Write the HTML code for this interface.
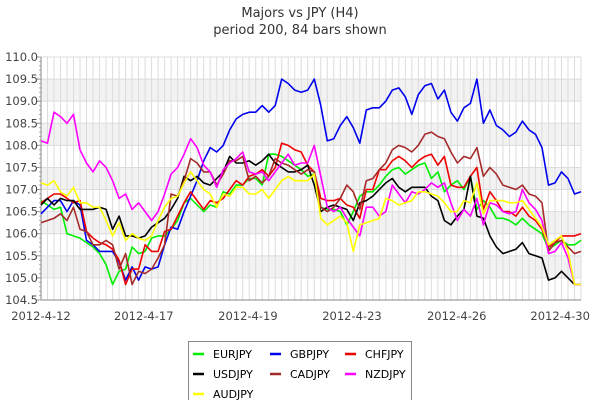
<!DOCTYPE html>
<html><head><meta charset="utf-8"><style>
body{margin:0;background:#fff;font-family:"Liberation Sans","DejaVu Sans",sans-serif;}
svg text{font-family:"DejaVu Sans","Liberation Sans",sans-serif;}
</style></head><body>
<svg id="c" width="600" height="400" xmlns="http://www.w3.org/2000/svg"></svg>
<script>
const seriesNames=["EURJPY","GBPJPY","CHFJPY","USDJPY","CADJPY","NZDJPY","AUDJPY"];
const seriesColors=["#00ee00","#0000ee","#ee0000","#000000","#a52a2a","#ff00ff","#ffff00"];
const yTicks=[104.5,105.0,105.5,106.0,106.5,107.0,107.5,108.0,108.5,109.0,109.5,110.0];
const dateLabels=["2012-4-12","2012-4-17","2012-4-19","2012-4-23","2012-4-26","2012-4-30"];
const dateIdx=[0,15.8,31.8,47.8,63.9,79.8];
const eurjpy=[106.75,106.65,106.55,106.6,106.0,105.95,105.9,105.8,105.7,105.55,105.3,104.85,105.15,105.2,105.7,105.55,105.6,105.9,105.95,105.95,106.1,106.3,106.7,106.8,106.65,106.5,106.65,106.6,106.95,106.9,107.1,107.1,107.25,107.25,107.1,107.8,107.8,107.75,107.65,107.55,107.45,107.3,107.35,106.6,106.55,106.55,106.5,106.2,106.5,106.85,106.95,106.95,107.1,107.3,107.45,107.5,107.35,107.45,107.55,107.6,107.25,107.4,106.95,107.1,107.2,107.0,107.3,106.55,106.75,106.6,106.35,106.35,106.3,106.2,106.35,106.2,106.1,106.0,105.65,105.75,105.85,105.75,105.75,105.85];
const gbpjpy=[106.45,106.6,106.75,106.75,106.5,106.75,106.65,105.85,105.75,105.6,105.6,105.6,105.35,104.95,105.25,104.95,105.25,105.2,105.25,105.75,106.15,106.1,106.5,106.85,107.2,107.65,107.95,107.85,108.0,108.35,108.6,108.7,108.75,108.75,108.9,108.75,108.9,109.5,109.4,109.25,109.2,109.25,109.5,108.9,108.1,108.15,108.45,108.65,108.4,108.05,108.8,108.85,108.85,109.0,109.25,109.3,109.1,108.7,109.15,109.35,109.4,109.05,109.25,108.75,108.55,108.85,108.95,109.5,108.5,108.8,108.45,108.35,108.2,108.3,108.55,108.35,108.25,107.95,107.1,107.15,107.4,107.25,106.9,106.95];
const chfjpy=[106.7,106.8,106.9,106.9,106.8,106.7,106.75,106.05,105.9,105.8,105.75,105.65,105.4,104.85,105.2,105.2,105.75,105.6,105.6,106.05,106.1,106.4,106.7,106.95,106.75,106.55,106.75,106.7,106.8,107.0,107.2,107.1,107.3,107.35,107.45,107.3,107.5,108.05,108.0,107.9,107.85,107.55,107.4,106.8,106.75,106.75,106.8,106.65,106.6,106.35,107.0,107.0,107.45,107.45,107.65,107.75,107.65,107.5,107.65,107.75,107.8,107.55,107.75,107.1,107.05,107.05,107.3,107.5,106.55,106.95,106.75,106.5,106.5,106.4,106.6,106.4,106.3,106.1,105.7,105.8,105.95,105.95,105.95,106.0];
const usdjpy=[106.65,106.8,106.65,106.8,106.75,106.75,106.55,106.55,106.55,106.6,106.55,106.1,106.4,105.95,105.95,105.9,105.95,106.15,106.25,106.35,106.55,106.8,107.3,107.2,107.3,107.15,107.1,107.25,107.4,107.75,107.6,107.6,107.65,107.55,107.65,107.8,107.6,107.5,107.4,107.4,107.45,107.55,107.1,106.5,106.6,106.65,106.6,106.55,106.3,106.7,106.75,106.85,107.0,107.15,107.25,107.05,106.95,107.05,107.05,107.05,106.85,106.75,106.3,106.2,106.4,106.55,107.3,106.4,106.35,105.95,105.7,105.55,105.6,105.65,105.8,105.55,105.5,105.45,104.95,105.0,105.15,105.0,104.85,104.85];
const cadjpy=[106.25,106.3,106.35,106.45,106.3,106.6,106.1,106.05,105.75,105.75,105.85,105.75,105.2,105.55,104.85,105.15,105.1,105.2,105.45,105.75,106.9,106.85,107.2,107.7,107.6,107.4,107.4,107.1,107.35,107.65,107.65,107.75,107.2,107.3,107.15,107.3,107.7,107.6,107.55,107.45,107.35,107.45,107.4,106.6,106.5,106.6,106.8,107.1,106.95,106.55,107.2,107.25,107.45,107.6,107.9,108.0,107.95,107.85,108.0,108.25,108.3,108.2,108.15,107.85,107.6,107.75,107.7,107.95,107.3,107.5,107.35,107.1,107.05,107.0,107.1,106.9,106.85,106.7,105.6,105.8,105.85,105.7,105.55,105.6];
const nzdjpy=[108.1,108.05,108.75,108.65,108.5,108.7,107.9,107.6,107.4,107.65,107.5,107.2,106.8,106.9,106.55,106.7,106.5,106.3,106.5,106.9,107.35,107.5,107.8,108.15,107.95,107.55,107.4,107.05,107.45,107.6,107.7,107.85,107.4,107.35,107.4,107.2,107.4,107.6,107.8,107.55,107.6,107.6,108.0,107.3,106.6,106.5,106.6,106.35,106.15,105.95,106.6,106.6,106.4,106.5,107.1,106.9,106.7,106.95,106.9,107.0,107.15,107.05,107.15,106.7,106.3,106.55,106.4,106.8,106.2,106.7,106.65,106.5,106.45,106.5,107.0,106.7,106.55,106.3,105.55,105.6,105.8,105.45,104.85,104.85];
const audjpy=[107.15,107.1,107.2,106.95,106.85,107.05,106.7,106.7,106.6,106.6,106.3,105.95,106.25,105.85,106.0,105.9,105.85,105.95,106.3,106.6,106.8,106.85,107.15,107.4,107.2,107.0,106.9,106.6,106.9,106.85,107.05,107.05,106.9,106.9,107.0,106.8,107.0,107.2,107.3,107.2,107.2,107.2,107.35,106.35,106.2,106.3,106.4,106.25,105.6,106.2,106.25,106.3,106.35,106.8,106.75,106.65,106.7,106.75,106.95,106.95,106.9,106.85,106.7,106.5,106.5,106.75,106.7,107.15,106.45,106.75,106.75,106.75,106.7,106.7,106.75,106.55,106.35,106.15,105.75,105.85,105.95,105.6,104.85,104.85];
const allSeries=[eurjpy,gbpjpy,chfjpy,usdjpy,cadjpy,nzdjpy,audjpy];

const NS="http://www.w3.org/2000/svg";
const svg=document.getElementById('c');
const L=41,R=581,T=57,B=300,yMin=104.5,yMax=110,N=84;
const xs=i=>L+i*(R-L)/(N-1);
const ys=v=>B-(v-yMin)/(yMax-yMin)*(B-T);
function mk(tag,attrs,parent){const e=document.createElementNS(NS,tag);for(const k in attrs)e.setAttribute(k,attrs[k]);(parent||svg).appendChild(e);return e;}

let t=mk('text',{x:300,y:17,'text-anchor':'middle','font-size':13,fill:'#333'});t.textContent="Majors vs JPY (H4)";


t=mk('text',{x:300,y:34,'text-anchor':'middle','font-size':13,fill:'#333'});t.textContent="period 200, 84 bars shown";



// bands
for(let k=0;k<yTicks.length-1;k++){
  if(k%2===1){const r=mk('rect',{x:L,y:ys(yTicks[k+1]),width:R-L,height:ys(yTicks[k])-ys(yTicks[k+1]),fill:'#f2f2f2'});
  
  }
}
for(let i=0;i<N;i++){const l=mk('line',{x1:xs(i),x2:xs(i),y1:T,y2:B,stroke:'#dcdcdc','stroke-width':1});
  
  }
yTicks.forEach(v=>{
  const l=mk('line',{x1:L,x2:R,y1:ys(v),y2:ys(v),stroke:'#dcdcdc','stroke-width':1});
  
  
  const tk=mk('line',{x1:L-4,x2:L,y1:ys(v),y2:ys(v),stroke:'#888'});
  
  
  const tx=mk('text',{x:L-3,y:ys(v)+4,'text-anchor':'end','font-size':11.5,fill:'#444'});tx.textContent=v.toFixed(1);
  
  
});
for(let v=yMin;v<yMax;v+=0.1){const m=mk('line',{x1:L-2,x2:L,y1:ys(v),y2:ys(v),stroke:'#aaa'});
  
  }
let ax=mk('line',{x1:L,x2:L,y1:T,y2:B,stroke:'#888'});


ax=mk('line',{x1:L,x2:R,y1:B,y2:B,stroke:'#888'});


dateLabels.forEach((d,k)=>{
  const tx=mk('text',{x:xs(dateIdx[k]),y:320,'text-anchor':'middle','font-size':11.5,fill:'#444'});tx.textContent=d;
  
  
});
allSeries.forEach((s,k)=>{
  const p=mk('polyline',{points:s.map((v,i)=>xs(i).toFixed(1)+','+ys(v).toFixed(1)).join(' '),fill:'none',stroke:seriesColors[k],'stroke-width':1.6,'stroke-linejoin':'round'});
  
  
});
// legend
const lg=mk('rect',{x:188.5,y:341.5,width:223,height:70,fill:'#fff',stroke:'#888'});


const legOrder=[0,1,2,3,4,5,6];
const colX=[193,270,345],rowY=[354,374,394];
legOrder.forEach((k,j)=>{
  const cx=colX[j%3],cy=rowY[Math.floor(j/3)];
  const g=mk('g',{});
  
  
  mk('line',{x1:cx,x2:cx+11,y1:cy,y2:cy,stroke:seriesColors[k],'stroke-width':2.5},g);
  const tx=mk('text',{x:cx+20,y:cy+4,'font-size':11,fill:'#000'},g);tx.textContent=seriesNames[k];
});
</script>
</body></html>
